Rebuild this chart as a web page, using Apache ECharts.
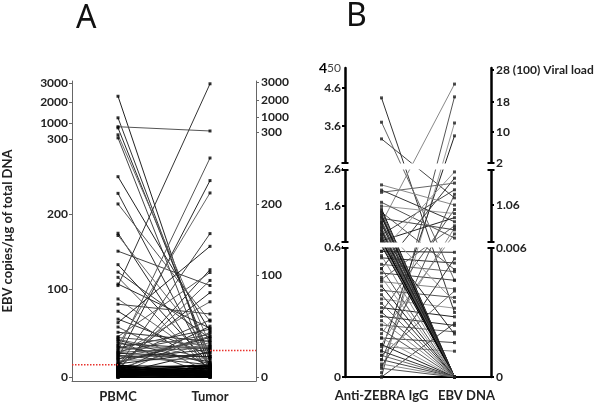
<!DOCTYPE html>
<html><head><meta charset="utf-8">
<script src="https://cdn.jsdelivr.net/npm/echarts@6/dist/echarts.min.js"></script>
<style>html,body{margin:0;padding:0;background:#fff}#c{width:600px;height:403px}</style>
</head><body><div id="c"></div>
<script>
// ---------------- DATA ----------------
// Panel A: EBV copies/µg of total DNA, paired PBMC -> Tumor
const categoriesA = ['PBMC', 'Tumor'];
const pbmc = [
  2300,1240,830,780,475,340,250,228,214,175,172,151,133,123,116,107,89,83,75,66,57,51,43,40,38,
  105,30,22,36,12,62,8,46,14,26,20,6,33,3,16,10,28,4,24,9,
  14,13,12,12,11,10,10,9,9,8,8,7,7,6,6,5,5,4,4,3,3,2,2,2,1,1,1,0,0,0,0,0,13,11,6,3,
  35,32,29,27,25,23,21,19,17,15,42,45
];
const tumor = [
  8,15,340,20,32,5,45,10,55,3,26,90,12,38,6,48,14,62,9,22,4,35,18,2,28,
  2900,264,233,216,159,141,108,104,83,74,56,50,47,44,39,34,29,25,20,95,
  2,10,5,0,8,3,12,1,6,11,0,4,9,2,7,0,5,10,1,6,3,8,0,4,2,11,7,0,3,5,9,1,4,0,12,9,
  15,30,42,20,12,36,27,18,40,24,13,31
];
const cutoffPBMC = 14;
const cutoffTumor = 26;
const ticksA = [0, 100, 200, 300, 1000, 2000, 3000];

// Panel B: Anti-ZEBRA IgG -> EBV DNA viral load
const categoriesB = ['Anti-ZEBRA IgG', 'EBV DNA'];
const zebraIgG = [
  4.34,3.7,3.3,1.18,0,0.02,0.12,
  0.5,1.97,0.9,2.17,0.3,1.6,0.75,2.03,0.45,1.3,0.2,1.7,0.58,
  0.58,0.55,0.52,0.48,0.44,0.4,0.36,0.32,0.28,0.24,0.18,0.14,1.45,1.1,0.8,
  0.05,0.1,0,0.15,0.08,
  1.53,1.41,1.33,1.24,1.16,1.07,0.99,0.93,0.86,0.8,0.74,0.68,0.63,
  1.48,1.37,1.2,1.02,0.9,0.77,
  0.56,0.5,0.46,0.42,0.38,0.34,0.3,0.26,0.22,0.18,0.15,0.12,0.1,0.08,0.06,0.04
];
const ebvDNA = [
  0.003,0.0045,1.22,23.6,19.6,12.4,9.0,
  1.66,1.55,1.4,1.06,0.95,0.85,0.75,0.65,0.55,0.45,0.35,0.25,1.8,
  0.0058,0.0053,0.0049,0.0045,0.0041,0.0037,0.0032,0.0028,0.0024,0.0021,0.0016,0.0012,0.005,0.0035,0.002,
  0.0055,0.004,0.0025,0.5,1.3,
  0,0,0,0,0,0,0,0,0,0,0,0,0,
  0,0,0,0,0,0,
  0,0,0,0,0,0,0,0,0,0,0,0,0,0,0,0
];
const ticksBLeft = [0, 0.6, 1.6, 2.6, 3.6, 4.6];
const ticksBRight = [0, 0.006, 1.06, 2, 10, 18, 28];

// ---------------- LAYOUT (axis scale knots, in plot units) ----------------
const knotsAL = [0, 88, 163, 239, 255, 276, 295];
const knotsAR = [0, 102, 173, 246, 261, 278, 296];
const knotsBL = [0, 130, 171, 208, 251, 289];
const knotsBR = [0, 129, 172, 214, 245, 275, 307];
const topLabelBL = 309;
const gapsB = [[129, 135], [207, 214]];

function pw(v, ticks, knots) {
  for (let i = 1; i < ticks.length; i++) {
    if (v <= ticks[i]) {
      const t = (v - ticks[i - 1]) / (ticks[i] - ticks[i - 1]);
      return knots[i - 1] + t * (knots[i] - knots[i - 1]);
    }
  }
  const n = ticks.length - 1;
  return knots[n] + (v - ticks[n]) * (knots[n] - knots[n - 1]) / (ticks[n] - ticks[n - 1]);
}
const fmtLabel = (ticks, knots) => v => {
  const i = knots.findIndex(k => Math.abs(k - v) < 1e-6);
  return i >= 0 ? String(ticks[i]) : '';
};

const greysA = ['#222', '#333', '#555', '#2a2a2a', '#666', '#444'];
const greysB = ['#333', '#666', '#444', '#888', '#555', '#999', '#222'];
const bundleB = ['#111', '#3a3a3a', '#222', '#555', '#000', '#444'];

const linesA = pbmc.map((p, i) => ({
  coords: [[0, pw(p, ticksA, knotsAL)], [1, pw(tumor[i], ticksA, knotsAR)]],
  lineStyle: { color: (p <= 15 && tumor[i] <= 15) ? '#000' : greysA[i % greysA.length] }
}));
const ptsA = pbmc.map(p => [0, pw(p, ticksA, knotsAL)])
  .concat(tumor.map(t => [1, pw(t, ticksA, knotsAR)]));

const linesB = zebraIgG.map((z, i) => ({
  coords: [[0, pw(z, ticksBLeft, knotsBL)], [1, pw(ebvDNA[i], ticksBRight, knotsBR)]],
  lineStyle: { color: (ebvDNA[i] === 0 && z >= 0.6) ? bundleB[i % bundleB.length] : greysB[i % greysB.length] }
}));
const ptsB = zebraIgG.map(z => [0, pw(z, ticksBLeft, knotsBL)])
  .concat(ebvDNA.map(e => [1, pw(e, ticksBRight, knotsBR)]));

const FONT = 'Lato';
const labelStyle = { fontFamily: FONT, fontWeight: 'bold', fontSize: 12, color: '#222' };

const chart = echarts.init(document.getElementById('c'));
const option = {
  animation: false,
  backgroundColor: '#fff',
  title: [
    { text: 'A', left: 71, top: -2, textStyle: { fontFamily: 'Noto Sans', fontSize: 32, fontWeight: 'normal', color: '#111' } },
    { text: 'B', left: 341, top: -4, textStyle: { fontFamily: 'Noto Sans', fontSize: 32, fontWeight: 'normal', color: '#111' } }
  ],
  grid: [
    { left: 72, right: 344, top: 81, bottom: 21 },
    { left: 345, right: 109, top: 68, bottom: 26 }
  ],
  xAxis: [
    {
      gridIndex: 0, type: 'value', min: -0.5, max: 1.5,
      axisLine: { onZero: false, lineStyle: { color: '#666', width: 1 } },
      axisTick: { show: false }, splitLine: { show: false },
      axisLabel: { customValues: [0, 1], margin: 9, formatter: v => categoriesA[Math.round(v)], ...labelStyle, fontSize: 13, color: '#222' }
    },
    {
      gridIndex: 1, type: 'value', min: -0.5, max: 1.5,
      axisLine: { onZero: false, lineStyle: { color: '#000', width: 2 } },
      axisTick: { show: false }, splitLine: { show: false },
      axisLabel: {
        customValues: [0, 1], margin: 12,
        formatter: v => Math.round(v) === 0 ? '{a|' + categoriesB[0] + '}' : '{b|' + categoriesB[1] + '}',
        rich: {
          a: { fontFamily: FONT, fontWeight: 'bold', fontSize: 13, color: '#222' },
          b: { fontFamily: FONT, fontWeight: 'bold', fontSize: 13, color: '#222', padding: [0, 0, 0, 24] }
        }
      }
    }
  ],
  yAxis: [
    {
      gridIndex: 0, type: 'value', position: 'left', min: -4, max: 297,
      name: 'EBV copies/μg of total DNA', nameLocation: 'middle', nameGap: 58,
      nameTextStyle: { fontFamily: FONT, fontWeight: 'bold', fontSize: 13, color: '#222' },
      axisLine: { show: true, onZero: false, lineStyle: { color: '#666', width: 1 } },
      axisTick: { show: true, length: 3, customValues: knotsAL, lineStyle: { color: '#666' } },
      splitLine: { show: false },
      axisLabel: { customValues: knotsAL, margin: 4, formatter: fmtLabel(ticksA, knotsAL), ...labelStyle }
    },
    {
      gridIndex: 0, type: 'value', position: 'right', min: -4, max: 297,
      axisLine: { show: true, onZero: false, lineStyle: { color: '#666', width: 1 } },
      axisTick: { show: true, length: 3, customValues: knotsAR, lineStyle: { color: '#666' } },
      splitLine: { show: false },
      axisLabel: { customValues: knotsAR, margin: 5, formatter: fmtLabel(ticksA, knotsAR), ...labelStyle }
    },
    {
      gridIndex: 1, type: 'value', position: 'left', min: 0, max: 309,
      axisLine: { show: true, onZero: false, lineStyle: { color: '#000', width: 2.5 } },
      axisTick: { show: true, length: 3, customValues: knotsBL, lineStyle: { color: '#000', width: 2 } },
      splitLine: { show: false },
      axisLabel: {
        customValues: knotsBL.concat([topLabelBL]), margin: 4,
        formatter: v => Math.abs(v - topLabelBL) < 1e-6 ? '{big|4}{sm|50}' : fmtLabel(ticksBLeft, knotsBL)(v),
        ...labelStyle,
        rich: {
          big: { fontFamily: FONT, fontWeight: 'bold', fontSize: 14, color: '#000' },
          sm: { fontFamily: FONT, fontWeight: 'normal', fontSize: 12, color: '#444' }
        }
      }
    },
    {
      gridIndex: 1, type: 'value', position: 'right', min: 0, max: 309,
      axisLine: { show: true, onZero: false, lineStyle: { color: '#000', width: 2.5 } },
      axisTick: { show: true, length: 3, customValues: knotsBR, lineStyle: { color: '#000', width: 2 } },
      splitLine: { show: false },
      axisLabel: {
        customValues: knotsBR, margin: 5,
        formatter: v => {
          const s = fmtLabel(ticksBRight, knotsBR)(v);
          return s === '28' ? '28 (100) Viral load' : s;
        },
        ...labelStyle
      }
    }
  ],
  series: [
    {
      type: 'lines', coordinateSystem: 'cartesian2d', xAxisIndex: 0, yAxisIndex: 0,
      data: linesA, symbol: ['none', 'none'], lineStyle: { width: 1, opacity: 1 }, z: 2, silent: true
    },
    {
      type: 'scatter', xAxisIndex: 0, yAxisIndex: 0, data: ptsA, symbol: 'rect', symbolSize: 3,
      itemStyle: { color: '#000' }, z: 3, silent: true
    },
    {
      type: 'line', xAxisIndex: 0, yAxisIndex: 0, symbol: 'none', z: 4,
      data: [[-0.5, pw(cutoffPBMC, ticksA, knotsAL)], [0, pw(cutoffPBMC, ticksA, knotsAL)]],
      lineStyle: { type: 'dotted', color: '#e8322c', width: 1.5 }
    },
    {
      type: 'line', xAxisIndex: 0, yAxisIndex: 0, symbol: 'none', z: 4,
      data: [[1, pw(cutoffTumor, ticksA, knotsAR)], [1.5, pw(cutoffTumor, ticksA, knotsAR)]],
      lineStyle: { type: 'dotted', color: '#e8322c', width: 1.5 }
    },
    {
      type: 'lines', coordinateSystem: 'cartesian2d', xAxisIndex: 1, yAxisIndex: 2,
      data: linesB, symbol: ['none', 'none'], lineStyle: { width: 1, opacity: 1 }, z: 2, silent: true
    },
    {
      type: 'scatter', xAxisIndex: 1, yAxisIndex: 2, data: ptsB, symbol: 'rect', symbolSize: 3,
      itemStyle: { color: '#222' }, z: 3, silent: true
    }
  ]
};
chart.setOption(option);

// axis breaks in panel B (white gaps with caps), positioned through the chart's own scales
const g = [];
gapsB.forEach(([a, b]) => {
  const p1 = chart.convertToPixel({ gridIndex: 1 }, [-0.5, b]);
  const p2 = chart.convertToPixel({ gridIndex: 1 }, [1.5, a]);
  g.push({ type: 'rect', z: 100, shape: { x: p1[0] - 2, y: p1[1] + 0.5, width: p2[0] - p1[0] + 4, height: p2[1] - p1[1] - 1 }, style: { fill: '#fff' } });
  [p1[0], p2[0]].forEach(x => {
    [p1[1], p2[1]].forEach(y => {
      g.push({ type: 'line', z: 101, shape: { x1: x - 3.5, y1: y, x2: x + 3.5, y2: y }, style: { stroke: '#000', lineWidth: 2 } });
    });
  });
});
chart.setOption({ graphic: g });
</script>
</body></html>
